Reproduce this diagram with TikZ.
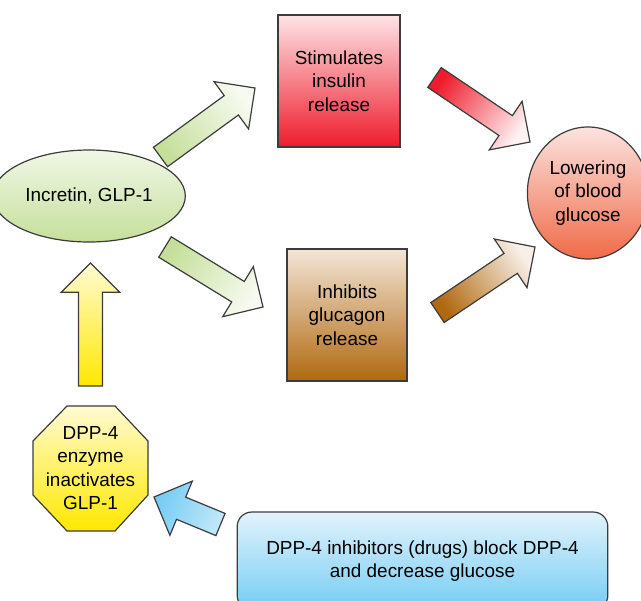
\documentclass[tikz,border=0pt]{standalone}
\usepackage{fontspec}
\setmainfont{Liberation Sans}
\usetikzlibrary{calc,shapes.geometric}
\definecolor{edge}{HTML}{3C3C3C}
\definecolor{grnA}{HTML}{F1F7E7}
\definecolor{grnB}{HTML}{C5DF9A}
\definecolor{redA}{HTML}{FDE4E6}
\definecolor{redB}{HTML}{EE1C2C}
\definecolor{brnA}{HTML}{F3E6D8}
\definecolor{brnB}{HTML}{B0680F}
\definecolor{salA}{HTML}{FBE3DF}
\definecolor{salB}{HTML}{F06A48}
\definecolor{yelA}{HTML}{FFFBD2}
\definecolor{yelB}{HTML}{FFE800}
\definecolor{bluA}{HTML}{E2F3FB}
\definecolor{bluB}{HTML}{74CCF4}
\tikzset{
  txt/.style={align=center, text=black, font=\fontsize{14.2}{17.6}\selectfont},
  outline/.style={draw=edge, line width=0.9pt},
  arrowbody/.style={draw=edge, line width=0.9pt, line join=miter},
}
\newcommand{\blkarrow}[5]{%
  \coordinate (ba-h) at ($(#2)!22pt!(#1)$);
  \shade[arrowbody, bottom color=#3, top color=#4, shading angle=#5]
    ($(#1)!9pt!90:(#2)$) -- ($(ba-h)!9pt!90:(#2)$) -- ($(ba-h)!22pt!90:(#2)$) -- (#2)
    -- ($(ba-h)!22pt!-90:(#2)$) -- ($(ba-h)!9pt!-90:(#2)$) -- ($(#1)!9pt!-90:(#2)$) -- cycle;
}
\begin{document}
\begin{tikzpicture}[x=0.75pt,y=-0.75pt]
\useasboundingbox (0,0) rectangle (641,600);
\clip (0,0) rectangle (641,600);

% nodes
\node[txt, outline, ellipse, minimum width=115.5pt, minimum height=69pt,
      top color=grnA, bottom color=grnB] (inc) at (89,196) {Incretin, GLP-1};
\node[txt, outline, rectangle, minimum width=91.5pt, minimum height=99pt,
      top color=redA, bottom color=redB] (ins) at (339,81) {Stimulates\\insulin\\release};
\node[txt, outline, rectangle, minimum width=90pt, minimum height=99pt,
      top color=brnA, bottom color=brnB] (glu) at (347,315) {Inhibits\\glucagon\\release};
\node[txt, outline, ellipse, minimum width=84pt, minimum height=99pt,
      top color=salA, bottom color=salB] (low) at (588,193) {Lowering\\of blood\\glucose};
\shade[outline, top color=yelA, bottom color=yelB]
  (67,406) -- (115,406) -- (148,441) -- (148,495) -- (115,531) -- (67,531) -- (33,495) -- (33,441) -- cycle;
\node[txt] (dpp) at (90.5,468) {DPP-4\\enzyme\\inactivates\\GLP-1};
\node[txt, outline, rectangle, rounded corners=11pt, minimum width=278pt, minimum height=73.5pt,
      top color=bluA, bottom color=bluB] (drug) at (422.5,561) {DPP-4 inhibitors (drugs) block DPP-4\\and decrease glucose};

% arrow end points
\coordinate (a1t) at (160.5,157); \coordinate (a1h) at (255,88);
\coordinate (a2t) at (165,247);   \coordinate (a2h) at (263,307);
\coordinate (a3t) at (434.5,77.5);\coordinate (a3h) at (530,142);
\coordinate (a4t) at (437.5,312.5);\coordinate (a4h) at (535,247);
\coordinate (a5t) at (90.5,386);  \coordinate (a5h) at (90.5,263);
\coordinate (a6t) at (220.5,524.5);\coordinate (a6h) at (154,497);

\blkarrow{a1t}{a1h}{grnB}{grnA!60!white}{-54}
\blkarrow{a2t}{a2h}{grnB}{grnA!60!white}{-121.5}
\blkarrow{a3t}{a3h}{redB}{redA!50!white}{-124}
\blkarrow{a4t}{a4h}{brnB}{brnA!60!white}{-56}
\blkarrow{a5t}{a5h}{yelB}{yelA}{0}
\blkarrow{a6t}{a6h}{bluA!70!bluB}{bluB}{67.5}
\end{tikzpicture}
\end{document}
